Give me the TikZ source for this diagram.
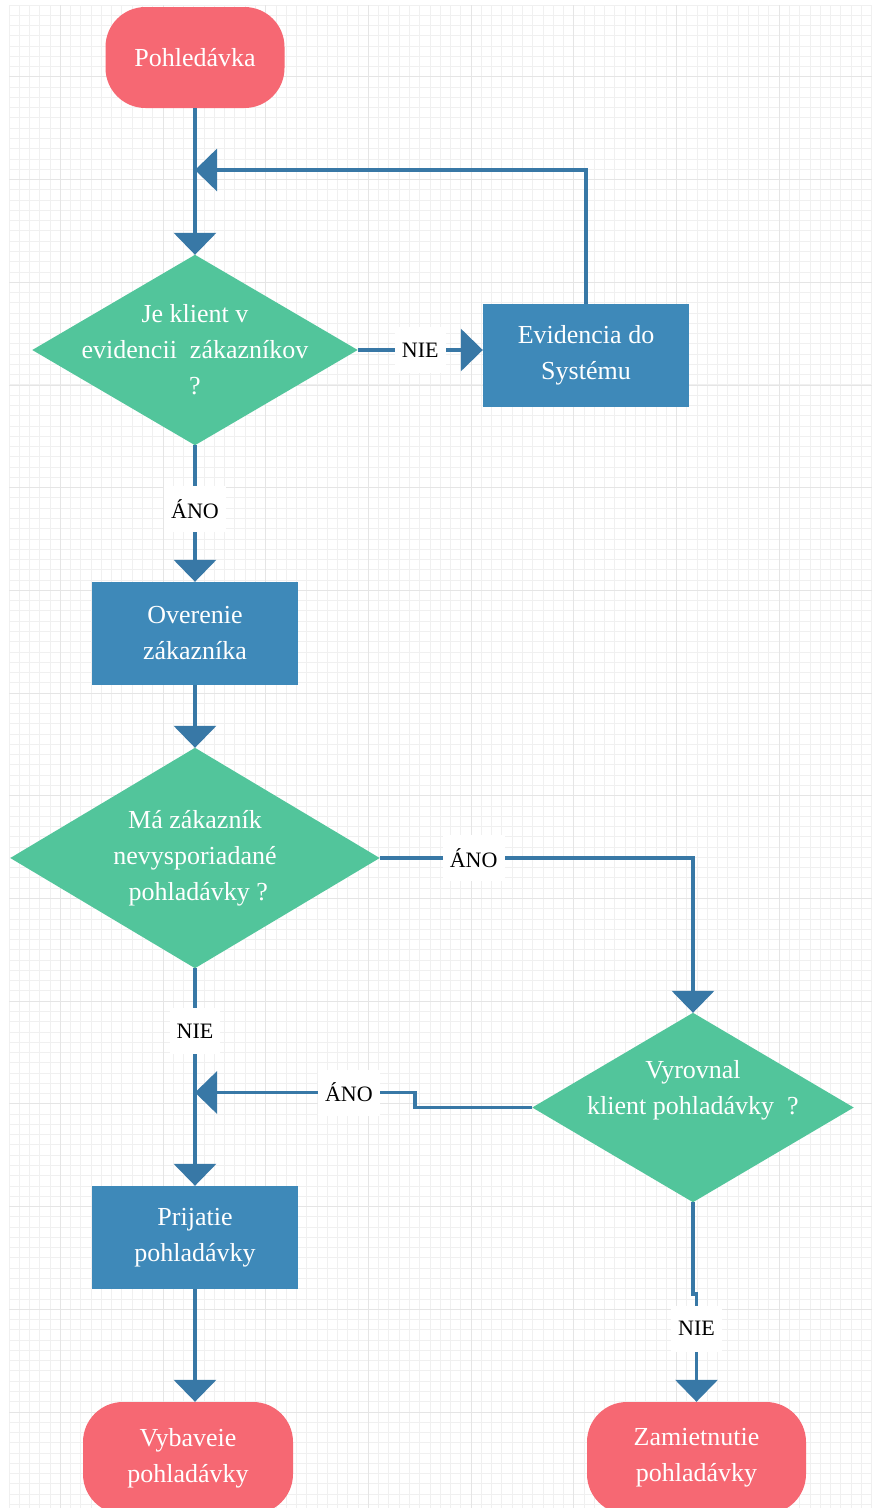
\documentclass[tikz,border=0pt]{standalone}
\usepackage{fontspec}
\setmainfont{Liberation Serif}
\usetikzlibrary{arrows.meta,calc}

\definecolor{termred}{HTML}{F66873}
\definecolor{decgreen}{HTML}{52C59B}
\definecolor{procblue}{HTML}{3E89B9}
\definecolor{linkblue}{HTML}{3878A6}

\pgfdeclarelayer{gridlayer}
\pgfdeclarelayer{shapelayer}
\pgfsetlayers{gridlayer,shapelayer,main}

\newcommand{\boxfont}{\fontsize{26}{36}\selectfont}
\newcommand{\lblfont}{\fontsize{22}{26}\selectfont}
% green diamond filled behind a decision node, corner to corner
\newcommand{\filldiamond}[1]{%
  \begin{pgfonlayer}{shapelayer}
    \fill[decgreen] (#1.north) -- (#1.east) -- (#1.south) -- (#1.west) -- cycle;
  \end{pgfonlayer}}

\begin{document}
\begin{tikzpicture}[x=1pt,y=-1pt,
  every node/.style={inner sep=0pt},
  terminal/.style={fill=termred, rounded corners=40pt, text=white, align=center, font=\boxfont},
  process/.style={fill=procblue, text=white, align=center, font=\boxfont,
                  minimum width=206pt, minimum height=103pt},
  decision/.style={text=white, align=center, font=\boxfont},
  lbl/.style={fill=white, text=black, font=\lblfont, inner xsep=7pt, minimum height=46pt},
  conn/.style={draw=linkblue, line width=3.5pt, -{Triangle[width=42pt,length=22pt]}},
  minorgrid/.style={draw=black!6, line width=1pt},
  majorgrid/.style={draw=black!10, line width=1pt}]

\useasboundingbox (0,0) rectangle (872,1508);
\clip (0,0) rectangle (872,1508);

% paper with a fine grid
\begin{pgfonlayer}{gridlayer}
  \fill[white] (0,0) rectangle (872,1508);
  \draw[minorgrid, shift={(9,5)}, step=10.27pt] (0,0) grid (863,1503);
  \draw[majorgrid, shift={(60.35,76.9)}, step=102.7pt] (-51.35,-71.9) grid (811.65,1431.1);
\end{pgfonlayer}

% nodes
\node[terminal, minimum width=179pt, minimum height=101pt] (start) at (195,57.5) {Pohledávka};

\node[decision, minimum width=325pt, minimum height=190pt] (d1) at (195,350)
  {Je klient v\\evidencii\ \ zákazníkov\\?};
\filldiamond{d1}

\node[process] (evid) at (586,355.5) {Evidencia do\\Systému};
\node[process] (ov) at (195,633.5) {Overenie\\zákazníka};

\node[decision, minimum width=369pt, minimum height=220pt] (d2) at (195,858)
  {Má zákazník\\nevysporiadané\\\ pohladávky ?};
\filldiamond{d2}

\node[decision, minimum width=321pt, minimum height=189pt] (d3) at (693,1107.5) {};
\filldiamond{d3}
\node[decision] (d3text) at ($(d3.center)+(0,-17)$) {Vyrovnal\\klient pohladávky\ \ ?};

\node[process] (pr) at (195,1237.5) {Prijatie\\pohladávky};

\node[terminal, minimum width=210pt, minimum height=112pt] (vyb) at (188,1458)
  {Vybaveie\\pohladávky};
\node[terminal, minimum width=219pt, minimum height=112pt] (zam) at (696.5,1458)
  {Zamietnutie\\pohladávky};

% junction points on the main column
\coordinate (j1) at (195,170);
\coordinate (j2) at (195,1092.5);

% connectors
\draw[conn] (start.south) -- (start.south |- d1.north);
\draw[conn] (evid.north) |- (j1);
\draw[conn] (d1.east) -- (d1.east -| evid.west) node[lbl, pos=0.5] {NIE};
\draw[conn] (d1.south) -- (ov.north) node[lbl, pos=0.47] {ÁNO};
\draw[conn] (ov.south) -- (d2.north);
\draw[conn] (d2.east) -| (d3.north) node[lbl, pos=0.15] {ÁNO};
\draw[conn] (d3.west) -- ++(-117.5,0) -- ++(0,-15) -- (j2) node[lbl, pos=0.3] {ÁNO};
\draw[conn] (d2.south) -- (pr.north) node[lbl, pos=0.29] {NIE};
\draw[conn] (pr.south) -- (pr.south |- vyb.north);
\draw[conn] (d3.south) -- ++(0,92) -| (zam.north) node[lbl, pos=0.66] {NIE};

\end{tikzpicture}
\end{document}
